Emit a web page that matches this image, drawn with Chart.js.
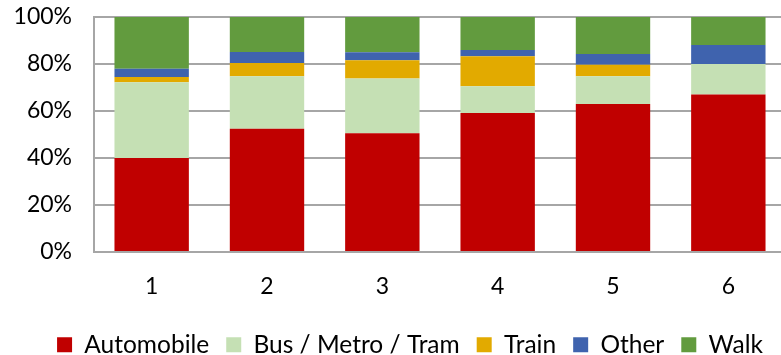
<!DOCTYPE html>
<html>
<head>
<meta charset="utf-8">
<script src="https://cdn.jsdelivr.net/npm/chart.js@4"></script>
<style>
html, body { margin: 0; padding: 0; overflow: hidden; background: #fff; }
#wrap { width: 786px; height: 355px; }
</style>
</head>
<body>
<div id="wrap"><canvas id="modeShare"></canvas></div>
<script>
// mode share per group, in percent
var categories = ['1', '2', '3', '4', '5', '6'];
var automobile = [40, 52.5, 50.5, 59.1, 63, 67];
var busMetroTram = [32.2, 22.3, 23.3, 11.4, 11.8, 13];
var train = [2.3, 5.6, 7.8, 12.8, 4.9, 0];
var other = [3.5, 4.7, 3.4, 2.7, 4.6, 8.1];
var walk = [22, 14.9, 15, 14, 15.7, 11.9];
var yTicks = [0, 20, 40, 60, 80, 100];

var gridGrey = '#A6A6A6';
var tickFont = { family: 'Lato', size: 23 };
var legendFont = { family: 'Lato', size: 24.5 };

function series(label, data, color) {
    return {
        label: label,
        data: data,
        backgroundColor: color,
        borderWidth: 0,
        categoryPercentage: 1,
        barPercentage: 0.645
    };
}

// nudge the legend right so it sits under the plot rather than the canvas
var legendShift = {
    id: 'legendShift',
    afterLayout: function (chart) {
        chart.legend.left += 17;
        chart.legend.right += 17;
    }
};

var ctx = document.getElementById('modeShare').getContext('2d');
var modeShare = new Chart(ctx, {
    type: 'bar',
    data: {
        labels: categories,
        datasets: [
            series('Automobile', automobile, '#C00000'),
            series('Bus / Metro / Tram', busMetroTram, '#C5E0B4'),
            series('Train', train, '#E2AA00'),
            series('Other', other, '#3F63AE'),
            series('Walk', walk, '#629B3E')
        ]
    },
    plugins: [legendShift],
    options: {
        responsive: true,
        maintainAspectRatio: false,
        animation: false,
        layout: { padding: { left: 0, top: 17, right: 0, bottom: -12 } },
        plugins: {
            tooltip: { enabled: false },
            legend: {
                position: 'bottom',
                labels: {
                    color: '#000',
                    font: legendFont,
                    boxWidth: 15,
                    boxHeight: 15,
                    padding: 17
                }
            }
        },
        scales: {
            x: {
                stacked: true,
                grid: { display: false },
                border: { color: gridGrey, width: 2 },
                ticks: { color: '#000', font: tickFont, padding: 13 },
                afterFit: function (scale) { scale.height = 63.5; }
            },
            y: {
                stacked: true,
                min: 0,
                max: 100,
                afterBuildTicks: function (scale) {
                    scale.ticks = yTicks.map(function (v) { return { value: v }; });
                },
                // invisible tick marks keep the labels clear of the axis line
                grid: { color: gridGrey, lineWidth: 2, drawTicks: true, tickLength: 22, tickColor: 'rgba(0,0,0,0)' },
                border: { color: gridGrey, width: 2 },
                ticks: {
                    color: '#000',
                    font: tickFont,
                    padding: 0,
                    callback: function (v) { return v + '%'; }
                },
                afterFit: function (scale) { scale.width = 94; }
            }
        }
    }
});
</script>
</body>
</html>
